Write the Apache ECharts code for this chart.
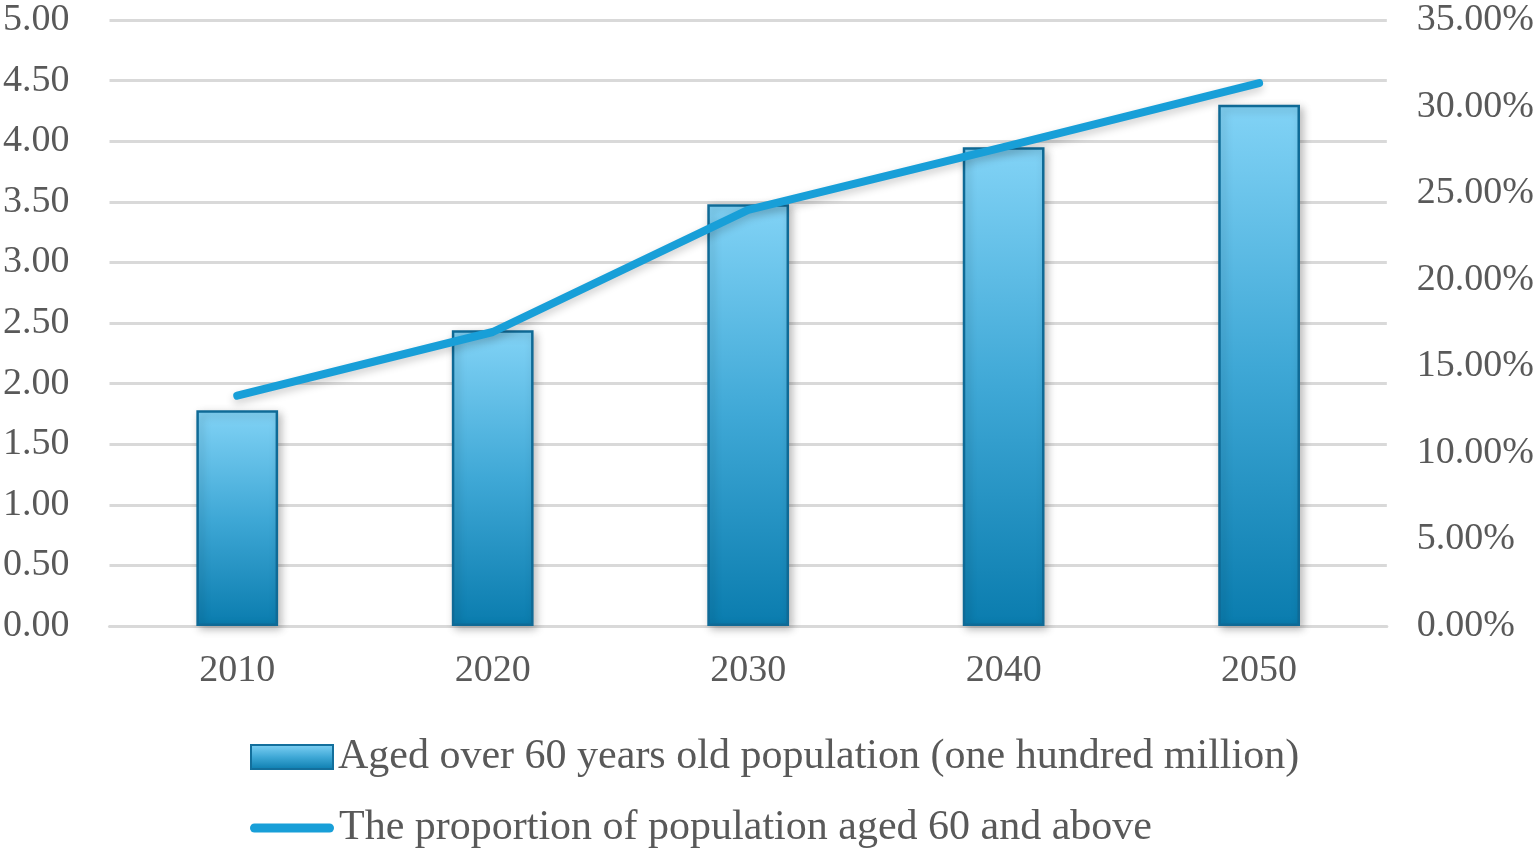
<!DOCTYPE html>
<html>
<head>
<meta charset="utf-8">
<script src="https://cdn.jsdelivr.net/npm/echarts@6/dist/echarts.min.js"></script>
<style>
  html, body { margin: 0; padding: 0; background: #fff; }
  #chart { width: 1537px; height: 850px; }
</style>
</head>
<body>
<div id="chart"></div>
<script>
// data
const years = ['2010', '2020', '2030', '2040', '2050'];
const population = [1.78, 2.44, 3.48, 3.95, 4.30];          // hundred million
const proportion = [0.1330, 0.1698, 0.2403, 0.2766, 0.3136]; // share aged 60+
const barName = 'Aged over 60 years old population (one hundred million)';
const lineName = 'The proportion of population aged 60 and above';

window.onload = () => {
    let chart = echarts.init(document.getElementById('chart'));
    const font = 'Liberation Serif';
    const grey = '#595959';
    const gridLine = '#d9d9d9';
    const legendText = { fontFamily: font, fontSize: 42, color: grey };

    let option = {
        backgroundColor: '#fff',
        animation: false,
        textStyle: { fontFamily: font },
        grid: { left: 105, right: 149, top: 20, bottom: 224 },
        // one legend per row, so each sits where it does in the picture
        legend: [{
            left: 245,
            top: 731,
            itemWidth: 82,
            itemHeight: 24,
            icon: 'rect',
            textStyle: legendText,
            itemStyle: { borderColor: '#136f9c', borderWidth: 2 },
            data: [barName]
        }, {
            left: 245,
            top: 802,
            itemWidth: 84,
            itemHeight: 9,
            icon: 'path://M4.5,0 H79.5 A4.5,4.5 0 0 1 79.5,9 H4.5 A4.5,4.5 0 0 1 4.5,0 Z',
            textStyle: legendText,
            data: [lineName]
        }],
        xAxis: {
            type: 'category',
            data: years,
            axisTick: { show: false },
            axisLine: { lineStyle: { color: gridLine, width: 3 } },
            axisLabel: { color: grey, fontSize: 38, fontFamily: font, margin: 26 }
        },
        yAxis: [{
            type: 'value',
            min: 0, max: 5, interval: 0.5,
            axisLabel: {
                color: grey, fontSize: 38, fontFamily: font, margin: 40,
                formatter: v => v.toFixed(2)
            },
            splitLine: { lineStyle: { color: gridLine, width: 3 } }
        }, {
            type: 'value',
            min: 0, max: 0.35, interval: 0.05,
            axisLabel: {
                color: grey, fontSize: 38, fontFamily: font, margin: 30,
                formatter: v => (v * 100).toFixed(2) + '%'
            },
            splitLine: { show: false }
        }],
        series: [{
            name: barName,
            type: 'bar',
            data: population,
            barWidth: '32%',
            itemStyle: {
                color: new echarts.graphic.LinearGradient(0, 0, 0, 1, [
                    { offset: 0, color: '#82d3f6' },
                    { offset: 0.5, color: '#3fa8d6' },
                    { offset: 1, color: '#0a7cae' }
                ]),
                borderColor: '#0f6a96',
                borderWidth: 2.5,
                shadowColor: 'rgba(0,0,0,0.25)',
                shadowBlur: 8,
                shadowOffsetX: 3,
                shadowOffsetY: 3
            }
        }, {
            name: lineName,
            type: 'line',
            yAxisIndex: 1,
            data: proportion,
            symbol: 'none',
            lineStyle: {
                color: '#189fd8',
                width: 8,
                cap: 'round',
                join: 'round',
                shadowColor: 'rgba(0,0,0,0.2)',
                shadowBlur: 8,
                shadowOffsetY: 4
            },
            itemStyle: { color: '#189fd8' }
        }]
    };
    chart.setOption(option);
};
</script>
</body>
</html>
